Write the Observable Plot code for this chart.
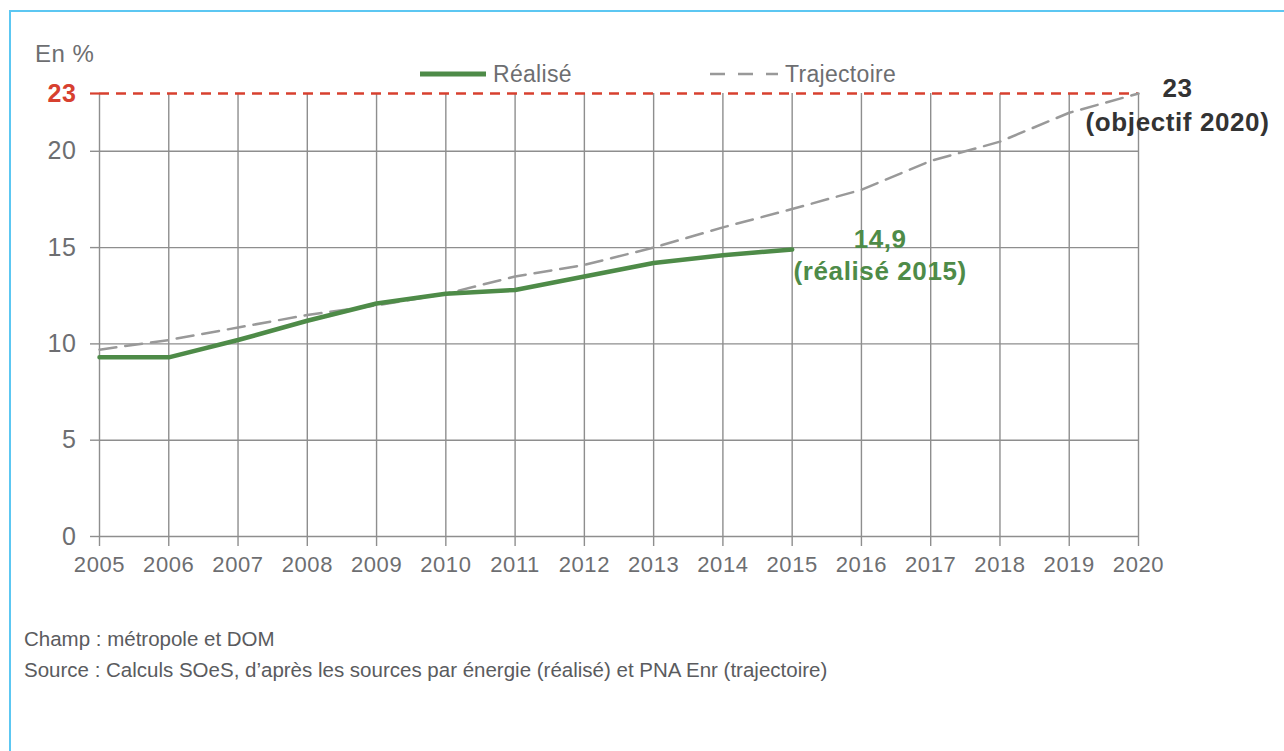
<!DOCTYPE html>
<html>
<head>
<meta charset="utf-8">
<script src="https://cdn.jsdelivr.net/npm/d3@7"></script>
<script src="https://cdn.jsdelivr.net/npm/@observablehq/plot@0.6"></script>
<style>
  html, body { margin: 0; padding: 0; background: #fff; }
  body { width: 1284px; height: 751px; position: relative; overflow: hidden; font-family: "Liberation Sans", Arial, sans-serif; }
  #frame { position: absolute; left: 9px; top: 10px; width: 1400px; height: 900px; border-left: 2px solid #5cc7f2; border-top: 2px solid #5cc7f2; }
  #chart { position: absolute; left: 0; top: 0; }
  #chart svg text { letter-spacing: 0.6px; }
  .unit { position: absolute; left: 35px; top: 40px; font-size: 24px; color: #6d6e71; letter-spacing: 0.5px; }
  .legend { position: absolute; top: 61px; height: 26px; display: flex; align-items: center; font-size: 23px; color: #6d6e71; letter-spacing: 0.3px; }
  .legend svg { margin-right: 7px; }
  .caption { position: absolute; left: 24px; font-size: 20.5px; color: #5a5b5e; }
</style>
</head>
<body>
<div id="frame"></div>
<div id="chart"></div>
<div class="unit">En %</div>
<div class="legend" style="left:420px"><svg width="66" height="10"><line x1="0" x2="66" y1="5" y2="5" stroke="#4e8b48" stroke-width="5"/></svg>Réalisé</div>
<div class="legend" style="left:710px"><svg width="68" height="10"><line x1="0" x2="68" y1="5" y2="5" stroke="#999" stroke-width="2.5" stroke-dasharray="15,13"/></svg>Trajectoire</div>
<div class="caption" style="top:627px">Champ : métropole et DOM</div>
<div class="caption" style="top:658px">Source : Calculs SOeS, d’après les sources par énergie (réalisé) et PNA Enr (trajectoire)</div>
<script>
// ---- data ----
const years = [2005, 2006, 2007, 2008, 2009, 2010, 2011, 2012, 2013, 2014, 2015, 2016, 2017, 2018, 2019, 2020];
const realiseYears = [2005, 2006, 2007, 2008, 2009, 2010, 2011, 2012, 2013, 2014, 2015];
const realiseValues = [9.3, 9.3, 10.2, 11.2, 12.1, 12.6, 12.8, 13.5, 14.2, 14.6, 14.9];
const trajectoireValues = [9.7, 10.2, 10.85, 11.5, 12.0, 12.6, 13.5, 14.1, 15.0, 16.05, 17.0, 18.0, 19.5, 20.5, 22.0, 23.0];
const yTicks = [0, 5, 10, 15, 20];
const objectif = 23;
const objectifLabel = ["23", "(objectif 2020)"];
const realiseLabel = ["14,9", "(réalisé 2015)"];

const realise = realiseYears.map((y, i) => ({year: y, value: realiseValues[i]}));
const trajectoire = years.map((y, i) => ({year: y, value: trajectoireValues[i]}));
const lastReal = realise[realise.length - 1];
const lastTraj = trajectoire[trajectoire.length - 1];

const gridColor = "#8e8e8e";
const textColor = "#6d6e71";

const chart = Plot.plot({
  width: 1284,
  height: 600,
  marginLeft: 99,
  marginRight: 146,
  marginTop: 93,
  marginBottom: 64,
  style: {fontFamily: "'Liberation Sans', Arial, sans-serif", background: "transparent", overflow: "visible"},
  x: {domain: [years[0], years[years.length - 1]], label: null},
  y: {domain: [0, objectif], label: null},
  marks: [
    Plot.ruleY(yTicks, {stroke: gridColor, strokeWidth: 1.4}),
    Plot.ruleX(years, {stroke: gridColor, strokeWidth: 1.4}),
    Plot.axisY({ticks: yTicks, tickSize: 9, tickPadding: 14, fontSize: 25, stroke: gridColor, strokeWidth: 1.4, fill: textColor, label: null, tickFormat: d => String(d)}),
    Plot.axisY({ticks: [objectif], tickSize: 9, tickPadding: 14, fontSize: 25, fontWeight: "bold", stroke: "#d7402f", strokeWidth: 2.2, fill: "#d7402f", label: null, tickFormat: d => String(d)}),
    Plot.axisX({ticks: years, tickSize: 10, tickPadding: 10, fontSize: 22, stroke: gridColor, strokeWidth: 1.4, fill: textColor, label: null, tickFormat: d => String(d)}),
    Plot.ruleY([objectif], {stroke: "#d7402f", strokeWidth: 2.3, strokeDasharray: "10,7"}),
    Plot.line(trajectoire, {x: "year", y: "value", stroke: "#999999", strokeWidth: 2.5, strokeDasharray: "17,9"}),
    Plot.line(realise, {x: "year", y: "value", stroke: "#4e8b48", strokeWidth: 4.5}),
    Plot.text([lastTraj], {x: "year", y: "value", text: () => objectifLabel.join("\n"), dx: 39, dy: 10, lineHeight: 1.3, fontSize: 26, fontWeight: "bold", fill: "#333333", textAnchor: "middle"}),
    Plot.text([lastReal], {x: "year", y: "value", text: () => realiseLabel.join("\n"), dx: 88, dy: 4, lineHeight: 1.23, fontSize: 26, fontWeight: "bold", fill: "#4e8b48", textAnchor: "middle"})
  ]
});
document.getElementById("chart").appendChild(chart);
</script>
</body>
</html>
